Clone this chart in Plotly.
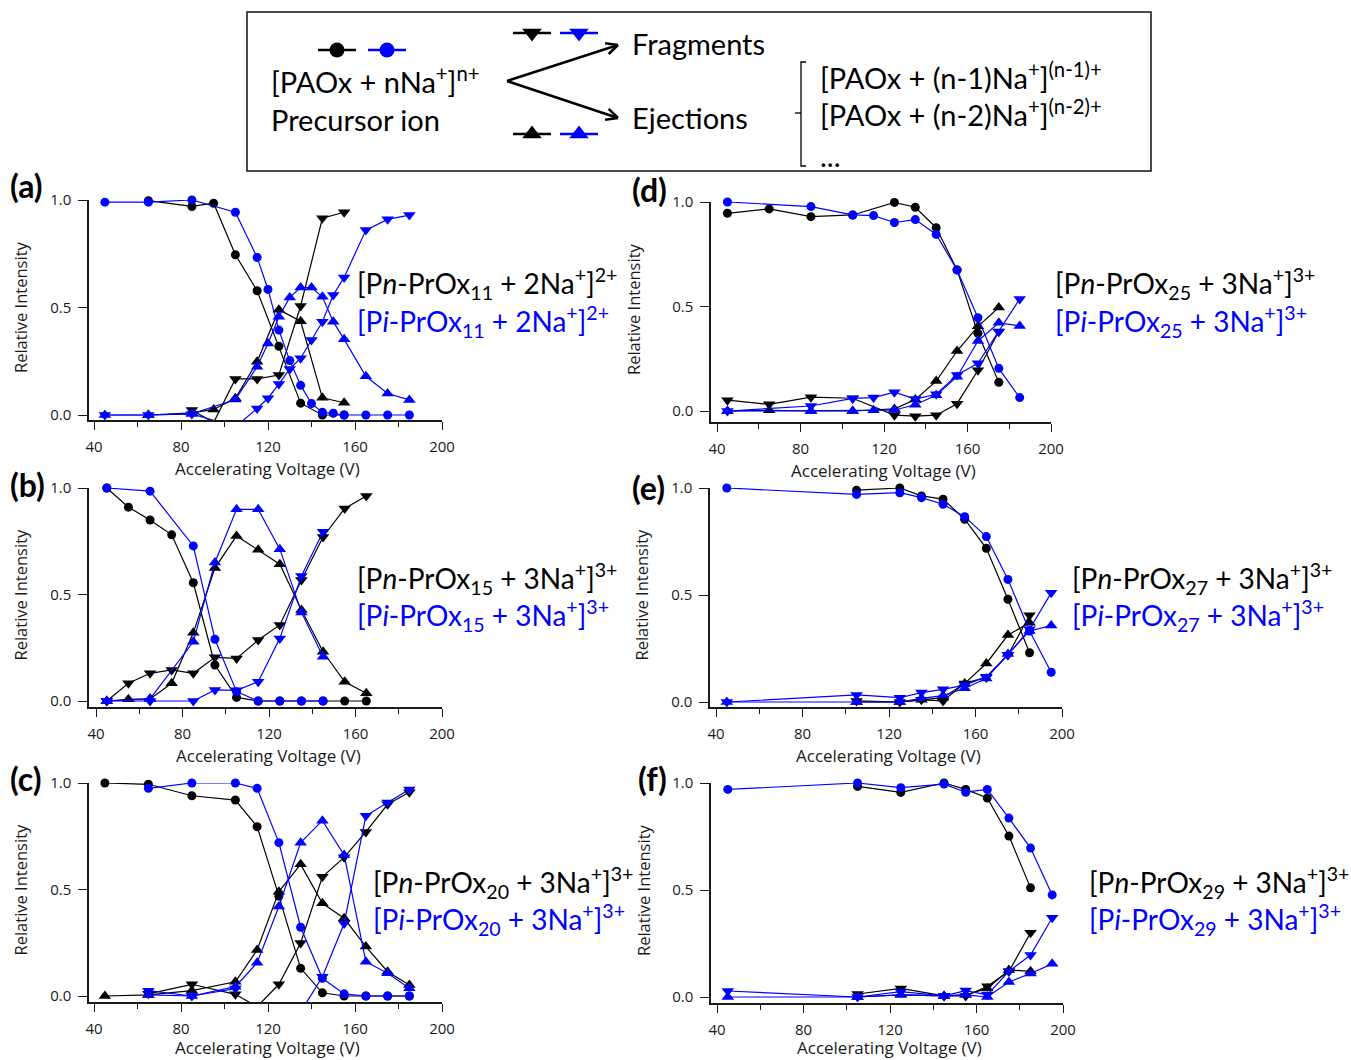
import math
import plotly.graph_objects as go

W, H = 1351, 1060

# ---------------- data (Relative Intensity vs Accelerating Voltage) ----------------
# (a) PnPrOx11 / PiPrOx11, 2Na+
V_a_n = [65, 85, 95, 105, 115, 125, 135, 145, 155]
prec_a_n = [0.997, 0.97, 0.985, 0.745, 0.578, 0.32, 0.055, 0.0, 0.0]
frag_a_n = [None, 0.023, -0.035, 0.168, 0.168, 0.186, 0.507, 0.915, 0.943]
ejec_a_n = [0.0, 0.01, 0.026, 0.078, 0.248, 0.49, 0.436, 0.08, 0.057]
V_a_i = [45, 65, 85, 105, 115, 120, 125, 130, 135, 140, 145, 150, 155, 165, 175, 185]
prec_a_i = [0.99, 0.99, 1.0, 0.943, 0.733, 0.584, 0.395, 0.253, 0.138, 0.053, 0.013, 0.008, 0.0, 0.0, 0.0, 0.0]
frag_a_i = [0.0, 0.0, 0.005, -0.055, 0.03, 0.078, 0.144, 0.214, 0.264, 0.349, 0.434, 0.558, 0.64, 0.86, 0.91, 0.93]
ejec_a_i = [0.0, 0.0, 0.005, 0.072, 0.225, 0.333, 0.457, 0.547, 0.593, 0.593, 0.55, 0.434, 0.352, 0.18, 0.1, 0.07]

# (b) PnPrOx15 / PiPrOx15, 3Na+
V_b_n = [45, 55, 65, 75, 85, 95, 105, 115, 125, 135, 145, 155, 165]
prec_b_n = [1.0, 0.91, 0.85, 0.78, 0.555, 0.169, 0.017, 0.0, 0.0, 0.0, 0.0, 0.0, 0.0]
frag_b_n = [0.0, 0.083, 0.13, 0.146, 0.13, 0.205, 0.2, 0.286, 0.357, 0.568, 0.77, 0.904, 0.962]
ejec_b_n = [0.0, 0.008, 0.01, 0.083, 0.32, 0.625, 0.775, 0.71, 0.642, 0.427, 0.231, 0.09, 0.036]
V_b_i = [45, 65, 85, 95, 105, 115, 125, 135, 145]
prec_b_i = [1.0, 0.985, 0.728, 0.29, 0.044, 0.0, 0.0, 0.0, 0.0]
frag_b_i = [0.0, 0.0, 0.0, 0.052, 0.05, 0.09, 0.294, 0.587, 0.795]
ejec_b_i = [0.0, 0.01, 0.278, 0.65, 0.9, 0.9, 0.713, 0.416, 0.208]

# (c) PnPrOx20 / PiPrOx20, 3Na+
V_c_n = [45, 65, 85, 105, 115, 125, 135, 145, 155, 165, 175, 185]
prec_c_n = [1.0, 0.994, 0.94, 0.92, 0.795, 0.469, 0.13, 0.015, 0.0, 0.0, 0.0, 0.0]
frag_c_n = [None, 0.01, 0.055, 0.008, -0.05, 0.055, 0.249, 0.56, 0.651, 0.77, 0.9, 0.957]
ejec_c_n = [0.0, 0.005, 0.025, 0.067, 0.216, 0.49, 0.618, 0.435, 0.365, 0.232, 0.114, 0.052]
V_c_i = [65, 85, 105, 115, 125, 135, 145, 155, 165, 175, 185]
prec_c_i = [0.975, 1.0, 1.0, 0.975, 0.72, 0.323, 0.083, 0.01, 0.0, 0.0, 0.0]
frag_c_i = [0.025, 0.0, 0.035, None, None, -0.075, 0.09, 0.34, 0.846, 0.908, 0.97]
ejec_c_i = [0.005, 0.0, 0.044, 0.156, 0.42, 0.72, 0.823, 0.662, 0.161, 0.107, 0.036]

# (d) PnPrOx25 / PiPrOx25, 3Na+
V_d_n = [45, 65, 85, 105, 125, 135, 145, 155, 165, 175]
prec_d_n = [0.946, 0.967, 0.93, 0.938, 0.998, 0.975, 0.877, 0.675, 0.372, 0.137]
frag_d_n = [0.052, 0.032, 0.066, 0.061, -0.02, -0.025, -0.02, 0.035, 0.195, 0.38]
ejec_d_n = [0.0, 0.003, 0.0, 0.0, 0.01, 0.055, 0.143, 0.287, 0.405, 0.495]
V_d_i = [45, 85, 105, 115, 125, 135, 145, 155, 165, 175, 185]
prec_d_i = [1.0, 0.978, 0.938, 0.935, 0.902, 0.916, 0.845, 0.675, 0.446, 0.204, 0.064]
frag_d_i = [0.0, 0.024, 0.06, 0.064, 0.09, 0.057, 0.08, 0.172, 0.228, 0.379, 0.536]
ejec_d_i = [0.0, 0.0, 0.0, 0.003, 0.005, 0.03, 0.075, 0.164, 0.335, 0.422, 0.407]

# (e) PnPrOx27 / PiPrOx27, 3Na+
V_e_n = [105, 125, 135, 145, 155, 165, 175, 185]
prec_e_n = [0.99, 1.0, 0.963, 0.948, 0.854, 0.718, 0.48, 0.23]
frag_e_n = [0.005, 0.0, 0.01, 0.005, 0.087, 0.115, 0.22, 0.405]
ejec_e_n = [0.0, 0.0, 0.01, 0.02, 0.087, 0.18, 0.313, 0.37]
V_e_i = [45, 105, 125, 135, 145, 155, 165, 175, 185, 195]
prec_e_i = [1.0, 0.97, 0.978, 0.955, 0.924, 0.866, 0.773, 0.573, 0.332, 0.139]
frag_e_i = [0.0, 0.033, 0.02, 0.044, 0.059, 0.079, 0.118, 0.22, 0.34, 0.51]
ejec_e_i = [0.0, 0.0, 0.0, 0.017, 0.03, 0.064, 0.11, 0.224, 0.332, 0.357]

# (f) PnPrOx29 / PiPrOx29, 3Na+
V_f_n = [105, 125, 145, 155, 165, 175, 185]
prec_f_n = [0.984, 0.956, 1.0, 0.97, 0.93, 0.752, 0.51]
frag_f_n = [0.014, 0.04, 0.005, 0.005, 0.05, 0.12, 0.30]
ejec_f_n = [0.0, 0.01, 0.005, 0.01, 0.04, 0.126, 0.12]
V_f_i = [45, 105, 125, 145, 155, 165, 175, 185, 195]
prec_f_i = [0.97, 1.0, 0.978, 0.995, 0.957, 0.97, 0.836, 0.696, 0.477]
frag_f_i = [0.028, 0.0, 0.025, 0.005, 0.03, 0.01, 0.12, 0.196, 0.37]
ejec_f_i = [0.0, 0.0, 0.01, 0.005, 0.01, 0.0, 0.07, 0.11, 0.155]

x_ticks = [40, 80, 120, 160, 200]
y_ticks = [0.0, 0.5, 1.0]
y_ticktext = ["0.0", "0.5", "1.0"]

labels = {
    "a": ("11", "2"), "b": ("15", "3"), "c": ("20", "3"),
    "d": ("25", "3"), "e": ("27", "3"), "f": ("29", "3"),
}

series = {
    "a": (V_a_n, prec_a_n, frag_a_n, ejec_a_n, V_a_i, prec_a_i, frag_a_i, ejec_a_i),
    "b": (V_b_n, prec_b_n, frag_b_n, ejec_b_n, V_b_i, prec_b_i, frag_b_i, ejec_b_i),
    "c": (V_c_n, prec_c_n, frag_c_n, ejec_c_n, V_c_i, prec_c_i, frag_c_i, ejec_c_i),
    "d": (V_d_n, prec_d_n, frag_d_n, ejec_d_n, V_d_i, prec_d_i, frag_d_i, ejec_d_i),
    "e": (V_e_n, prec_e_n, frag_e_n, ejec_e_n, V_e_i, prec_e_i, frag_e_i, ejec_e_i),
    "f": (V_f_n, prec_f_n, frag_f_n, ejec_f_n, V_f_i, prec_f_i, frag_f_i, ejec_f_i),
}

# ---------------- layout geometry (pixels) ----------------
geom = {
    "a": dict(xl=89, x40=94, x200=442, yb=420, y0=415, y1=200, lx=355, ly=284, cx=8, cy=186, tx=20),
    "b": dict(xl=89, x40=96, x200=442, yb=707, y0=701, y1=488, lx=355, ly=578, cx=8, cy=485, tx=20),
    "c": dict(xl=89, x40=94, x200=442, yb=1002, y0=996, y1=783, lx=371, ly=882, cx=8, cy=778, tx=20),
    "d": dict(xl=711, x40=717, x200=1051, yb=422, y0=411, y1=202, lx=1053, ly=284, cx=630, cy=190, tx=633),
    "e": dict(xl=710, x40=716, x200=1062, yb=707, y0=702, y1=488, lx=1070, ly=578, cx=630, cy=487, tx=641),
    "f": dict(xl=711, x40=717, x200=1063, yb=1003, y0=997, y1=783, lx=1087, ly=882, cx=636, cy=778, tx=643),
}

BLACK = "#000000"
BLUE = "#0000FF"
AXC = "#1a1a1a"
FONT_AX = "Open Sans"
FONT_LB = "Lato"


def px(x):
    return x / W


def py(y):
    return 1 - y / H


fig = go.Figure()
annotations = []
shapes = []

for k, name in enumerate(["a", "b", "c", "d", "e", "f"]):
    g = geom[name]
    idx = k + 1
    xa = "x" if idx == 1 else f"x{idx}"
    ya = "y" if idx == 1 else f"y{idx}"
    sx = (g["x200"] - g["x40"]) / 160.0
    sy = (g["y0"] - g["y1"]) / 1.0
    xr = [40 - (g["x40"] - g["xl"]) / sx, 200]
    ymin = -(g["yb"] - g["y0"]) / sy
    yr = [ymin, 1.0]
    axkw = dict(showgrid=False, zeroline=False, showline=True, linecolor=AXC, linewidth=1.5,
                ticks="outside", tickcolor=AXC, tickwidth=1.3, automargin=False,
                tickfont=dict(family=FONT_AX, size=15, color=AXC))
    fig.layout[f"xaxis{idx}"] = dict(domain=[px(g["xl"]), px(g["x200"])], range=xr, anchor=ya,
                                      tickvals=x_ticks, ticklen=8, ticklabelstandoff=4,
                                      minor=dict(dtick=20, tick0=40, ticklen=5, ticks="outside",
                                                 tickcolor=AXC, tickwidth=1.3),
                                      **axkw)
    fig.layout[f"yaxis{idx}"] = dict(domain=[py(g["yb"]), py(g["y1"])], range=yr, anchor=xa,
                                      tickvals=y_ticks, ticktext=y_ticktext, ticklen=9,
                                      ticklabelstandoff=4, **axkw)

    Vn, pn, fn, en, Vi, pi_, fi, ei = series[name]
    order = [(Vn, pn, BLACK, "circle", 9), (Vn, fn, BLACK, "triangle-down", 11),
             (Vn, en, BLACK, "triangle-up", 11),
             (Vi, pi_, BLUE, "circle", 9), (Vi, fi, BLUE, "triangle-down", 11),
             (Vi, ei, BLUE, "triangle-up", 11)]
    for V, Y, col, sym, sz in order:
        fig.add_trace(go.Scatter(x=V, y=Y, mode="lines", xaxis=xa, yaxis=ya,
                                 line=dict(color=col, width=1.2), showlegend=False,
                                 hoverinfo="skip", connectgaps=False))
        mx = [v for v, y in zip(V, Y) if y is not None and y >= ymin]
        my = [y for v, y in zip(V, Y) if y is not None and y >= ymin]
        fig.add_trace(go.Scatter(x=mx, y=my, mode="markers", xaxis=xa, yaxis=ya, cliponaxis=False,
                                 marker=dict(symbol=sym, size=sz, color=col, line=dict(width=0)),
                                 showlegend=False))

    nsub, charge = labels[name]
    annotations.append(dict(
        text=f"[P<i>n</i>-PrOx<sub>{nsub}</sub> + {charge}Na<sup>+</sup>]<sup>{charge}+</sup>",
        x=px(g["lx"]), y=py(g["ly"]), xref="paper", yref="paper", xanchor="left", yanchor="middle",
        showarrow=False, font=dict(family=FONT_LB, size=28, color=BLACK)))
    annotations.append(dict(
        text=f"[P<i>i</i>-PrOx<sub>{nsub}</sub> + {charge}Na<sup>+</sup>]<sup>{charge}+</sup>",
        x=px(g["lx"]), y=py(g["ly"] + 37), xref="paper", yref="paper", xanchor="left", yanchor="middle",
        showarrow=False, font=dict(family=FONT_LB, size=28, color=BLUE)))
    annotations.append(dict(
        text=f"<b>({name})</b>", x=px(g["cx"]), y=py(g["cy"]), xref="paper", yref="paper",
        xanchor="left", yanchor="middle", showarrow=False,
        font=dict(family=FONT_LB, size=32, color=BLACK)))
    annotations.append(dict(
        text="Relative Intensity", x=px(g["tx"]), y=py((g["yb"] + g["y1"]) / 2 - 3),
        xref="paper", yref="paper", xanchor="center", yanchor="middle", textangle=-90,
        showarrow=False, font=dict(family=FONT_AX, size=16.5, color=AXC)))
    annotations.append(dict(
        text="Accelerating Voltage (V)", x=px((g["x40"] + g["x200"]) / 2 - 1),
        y=py(min(g["yb"] + 61, H)), borderpad=0,
        xref="paper", yref="paper", xanchor="center", yanchor="bottom",
        showarrow=False, font=dict(family=FONT_AX, size=17, color=AXC)))

# ---------------- scheme box (top) ----------------
LX, LY = "x7", "y7"
fig.layout["xaxis7"] = dict(domain=[0, 1], range=[0, W], visible=False, anchor="y7", automargin=False)
fig.layout["yaxis7"] = dict(domain=[0, 1], range=[H, 0], visible=False, anchor="x7", automargin=False)

shapes.append(dict(type="rect", xref="paper", yref="paper", x0=px(247), x1=px(1151), y0=py(12), y1=py(171),
                   line=dict(color="#111111", width=1.5), fillcolor="rgba(0,0,0,0)"))

glyphs = [(337, 50, BLACK, "circle", 15), (387, 50, BLUE, "circle", 15),
          (532, 33, BLACK, "triangle-down", 17), (579, 33, BLUE, "triangle-down", 17),
          (532, 134, BLACK, "triangle-up", 17), (579, 134, BLUE, "triangle-up", 17)]
for gx, gy, col, sym, sz in glyphs:
    fig.add_trace(go.Scatter(x=[gx - 19, gx + 19], y=[gy, gy], mode="lines", xaxis=LX, yaxis=LY,
                             line=dict(color=col, width=2.5), showlegend=False, hoverinfo="skip"))
    fig.add_trace(go.Scatter(x=[gx], y=[gy], mode="markers", xaxis=LX, yaxis=LY, cliponaxis=False,
                             marker=dict(symbol=sym, size=sz, color=col), showlegend=False))

for (x0, y0, x1, y1) in [(507, 81, 618, 45), (507, 81, 618, 118)]:
    shapes.append(dict(type="line", xref="x7", yref="y7", x0=x0, y0=y0, x1=x1, y1=y1,
                       line=dict(color="#000000", width=2.5)))
    ang = math.atan2(y1 - y0, x1 - x0)
    for da in (0.45, -0.45):
        shapes.append(dict(type="line", xref="x7", yref="y7", x0=x1, y0=y1,
                           x1=x1 - 13 * math.cos(ang + da), y1=y1 - 13 * math.sin(ang + da),
                           line=dict(color="#000000", width=2.5)))

shapes.append(dict(type="path", xref="x7", yref="y7", path="M 806,62 L 801,62 L 801,166 L 806,166",
                   line=dict(color="#000000", width=1.3)))
shapes.append(dict(type="line", xref="x7", yref="y7", x0=795, y0=113, x1=801, y1=113,
                   line=dict(color="#000000", width=1.3)))

box_texts = [
    ("[PAOx + nNa<sup>+</sup>]<sup>n+</sup>", 269, 80),
    ("Precursor ion", 269, 119),
    ("Fragments", 630, 43),
    ("Ejections", 630, 117),
    ("[PAOx + (n-1)Na<sup>+</sup>]<sup>(n-1)+</sup>", 818, 76),
    ("[PAOx + (n-2)Na<sup>+</sup>]<sup>(n-2)+</sup>", 818, 113),
    ("...", 818, 155),
]
for t, tx, ty in box_texts:
    annotations.append(dict(text=t, x=px(tx), y=py(ty), xref="paper", yref="paper",
                            xanchor="left", yanchor="middle", showarrow=False,
                            font=dict(family=FONT_LB, size=29, color=BLACK)))

fig.update_layout(width=W, height=H, margin=dict(l=0, r=0, t=0, b=0, pad=0, autoexpand=False),
                  paper_bgcolor="white", plot_bgcolor="rgba(0,0,0,0)",
                  annotations=annotations, shapes=shapes, showlegend=False)

fig.write_html("out.html", config={"displayModeBar": False},
               post_script="document.body.style.margin='0px';document.body.style.overflow='hidden';")
